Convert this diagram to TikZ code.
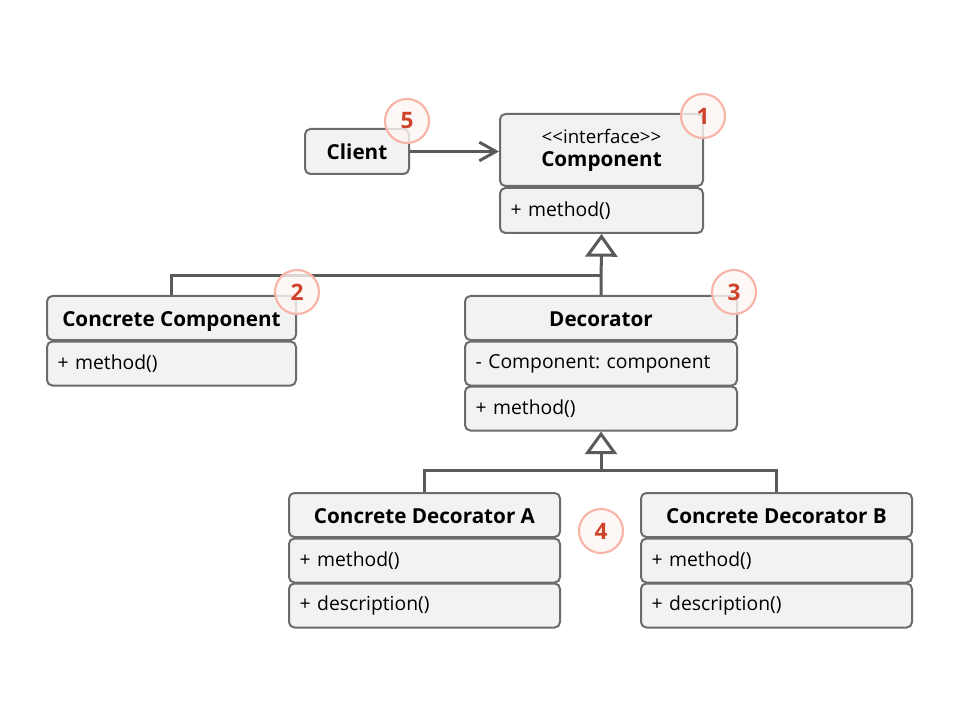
\documentclass[tikz,border=0pt]{standalone}
\usepackage{fontspec}
\setmainfont{Open Sans}
\frenchspacing
\usetikzlibrary{arrows.meta}
\definecolor{boxc}{HTML}{6B6B6B}
\definecolor{fillc}{HTML}{F2F2F2}
\definecolor{linec}{HTML}{5A5A5A}
\definecolor{mkline}{HTML}{F8B4A6}
\definecolor{mkfill}{HTML}{FDF6F4}
\definecolor{mktext}{HTML}{D0432B}
\tikzset{
  cmp/.style={draw=boxc, fill=fillc, rounded corners=4pt, line width=1.5pt, inner sep=0pt},
  head/.style={cmp, font=\bfseries\fontsize{15.5}{19}\selectfont, align=center, text height=15pt, text depth=3pt},
  meth/.style={cmp, font=\fontsize{14.5}{17}\selectfont, align=left, inner xsep=8pt},
  conn/.style={draw=linec, line width=2.25pt},
  gen/.style={conn, -{Triangle[open, length=17pt, width=24pt, line width=2.25pt]}},
  marker/.style={circle, draw=mkline, fill=mkfill, fill opacity=0.8, text opacity=1, line width=1.6pt,
    minimum size=33pt, inner sep=0pt, text=mktext, font=\bfseries\fontsize{17}{20}\selectfont},
}
\begin{document}
\begin{tikzpicture}[x=0.75pt, y=-0.75pt]
\useasboundingbox (0,0) rectangle (960,720);
% Client
\node[head, minimum width=104*0.75pt, minimum height=45*0.75pt] (client) at (357,151.5) {Client};
% Component
\node[cmp, minimum width=203*0.75pt, minimum height=72*0.75pt] (compH) at (601.5,150)
  {\raisebox{-3.5pt}{\begin{tabular}{@{}c@{}}\fontsize{14}{17}\selectfont <\kern0pt<interface>\kern0pt>\\[2.5pt]\bfseries\fontsize{15.5}{19}\selectfont Component\end{tabular}}};
\node[meth, text width=136.25pt, minimum height=45*0.75pt] (compM) at (601.5,210.5) {+ method()};
% Concrete Component
\node[head, minimum width=249*0.75pt, minimum height=44*0.75pt] (ccH) at (171.5,318) {Concrete Component};
\node[meth, text width=170.75pt, minimum height=44*0.75pt] (ccM) at (171.5,363.5) {+ method()};
% Decorator
\node[head, minimum width=272*0.75pt, minimum height=44*0.75pt] (decH) at (601,318) {Decorator};
\node[meth, text width=188pt, minimum height=44*0.75pt] (decF) at (601,363.5) {- Component: component};
\node[meth, text width=188pt, minimum height=44*0.75pt] (decM) at (601,408.5) {+ method()};
% Concrete Decorator A
\node[head, minimum width=271*0.75pt, minimum height=44*0.75pt] (caH) at (424.5,515) {Concrete Decorator A};
\node[meth, text width=187.25pt, minimum height=44*0.75pt] (caM) at (424.5,560.5) {+ method()};
\node[meth, text width=187.25pt, minimum height=44*0.75pt] (caD) at (424.5,605.5) {+ description()};
% Concrete Decorator B
\node[head, minimum width=271*0.75pt, minimum height=44*0.75pt] (cbH) at (776.5,515) {Concrete Decorator B};
\node[meth, text width=187.25pt, minimum height=44*0.75pt] (cbM) at (776.5,560.5) {+ method()};
\node[meth, text width=187.25pt, minimum height=44*0.75pt] (cbD) at (776.5,605.5) {+ description()};
% connectors
\coordinate (j1) at (601,276);
\coordinate (j2) at (601,470);
\draw[conn, -{Straight Barb[length=12.5pt, width=14pt, line width=2.25pt]}] (client.east) -- (compH.west |- client.east);
\draw[conn] (ccH.north) |- (j1);
\draw[gen] (decH.north) -- (compM.south);
\draw[conn] (caH.north) |- (j2);
\draw[conn] (cbH.north) |- (j2);
\draw[gen] (j2) -- (decM.south);
% markers
\node[marker] (m1) at (703,116) {1};
\node[marker] (m2) at (297,292) {2};
\node[marker] (m3) at (734,292) {3};
\node[marker] (m4) at (601,531) {4};
\node[marker] (m5) at (407,121) {5};
\end{tikzpicture}
\end{document}
